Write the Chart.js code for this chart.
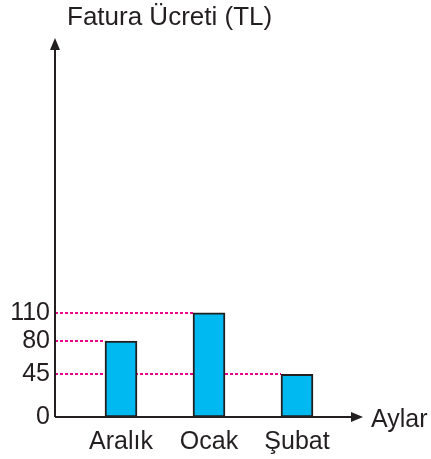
<!DOCTYPE html>
<html>
<head>
<meta charset="utf-8">
<script src="https://cdn.jsdelivr.net/npm/chart.js@4.4.0/dist/chart.umd.min.js"></script>
<style>
html, body { margin: 0; padding: 0; background: #fff; }
canvas { display: block; }
</style>
</head>
<body>
<canvas id="graphCanvas" width="431" height="459"></canvas>
<script>
var months = ['Aralık', 'Ocak', 'Şubat'];
var fees = [80, 110, 45];
var yTickValues = [0, 45, 80, 110];
var yTitle = 'Fatura Ücreti (TL)';
var xTitle = 'Aylar';

var ink = '#231f20';
var font = '"Liberation Sans", Arial, sans-serif';

var axisPlugin = {
    id: 'axisArrows',
    beforeDatasetsDraw: function (chart) {
        var ctx = chart.ctx;
        var area = chart.chartArea;
        var bars = chart.getDatasetMeta(0).data;
        ctx.save();
        ctx.strokeStyle = '#ec008c';
        ctx.lineWidth = 2;
        ctx.setLineDash([3, 2]);
        for (var i = 0; i < bars.length; i++) {
            var b = bars[i];
            var y = Math.round(b.y);
            ctx.beginPath();
            ctx.moveTo(area.left, y);
            ctx.lineTo(b.x - b.width / 2, y);
            ctx.stroke();
        }
        ctx.restore();
    },
    afterDatasetsDraw: function (chart) {
        var ctx = chart.ctx;
        var a = chart.chartArea;
        ctx.save();
        ctx.strokeStyle = ink;
        ctx.fillStyle = ink;
        ctx.lineWidth = 2;
        // y axis
        ctx.beginPath();
        ctx.moveTo(a.left, a.bottom);
        ctx.lineTo(a.left, a.top + 8);
        ctx.stroke();
        ctx.beginPath();
        ctx.moveTo(a.left, a.top);
        ctx.lineTo(a.left - 5, a.top + 12);
        ctx.lineTo(a.left + 5, a.top + 12);
        ctx.closePath();
        ctx.fill();
        // x axis
        ctx.beginPath();
        ctx.moveTo(a.left, a.bottom);
        ctx.lineTo(a.right - 8, a.bottom);
        ctx.stroke();
        ctx.beginPath();
        ctx.moveTo(a.right, a.bottom);
        ctx.lineTo(a.right - 12, a.bottom - 5);
        ctx.lineTo(a.right - 12, a.bottom + 5);
        ctx.closePath();
        ctx.fill();
        // titles
        ctx.font = '26px ' + font;
        ctx.textBaseline = 'middle';
        ctx.textAlign = 'left';
        ctx.fillText(yTitle, 67, 18);
        ctx.font = '25px ' + font;
        ctx.fillText(xTitle, a.right + 8, a.bottom + 3);
        ctx.restore();
    }
};

new Chart(document.getElementById('graphCanvas'), {
    type: 'bar',
    data: {
        datasets: [{
            data: fees.map(function (v, i) { return { x: i + 1, y: v }; }),
            backgroundColor: '#00b9f1',
            borderColor: ink,
            borderWidth: 2,
            borderSkipped: false,
            barThickness: 32
        }]
    },
    options: {
        responsive: false,
        animation: false,
        layout: { padding: { top: 38, right: 68, left: 0, bottom: 0 } },
        plugins: { legend: { display: false }, tooltip: { enabled: false } },
        scales: {
            x: {
                type: 'linear',
                min: 0.25,
                max: 3.75,
                offset: false,
                grid: { display: false, drawTicks: false, offset: false },
                border: { display: false },
                afterBuildTicks: function (scale) {
                    scale.ticks = months.map(function (m, i) { return { value: i + 1 }; });
                },
                afterFit: function (scale) { scale.height = 42; },
                ticks: {
                    autoSkip: false,
                    maxRotation: 0,
                    padding: 10,
                    color: ink,
                    font: { family: font, size: 25 },
                    callback: function (v) { return months[v - 1]; }
                }
            },
            y: {
                min: 0,
                max: 400,
                grid: { display: false, drawTicks: false },
                border: { display: false },
                afterBuildTicks: function (scale) {
                    scale.ticks = yTickValues.map(function (v) { return { value: v }; });
                },
                afterFit: function (scale) { scale.width = 55; },
                ticks: {
                    autoSkip: false,
                    padding: 5,
                    color: ink,
                    font: { family: font, size: 25 }
                }
            }
        }
    },
    plugins: [axisPlugin]
});
</script>
</body>
</html>
